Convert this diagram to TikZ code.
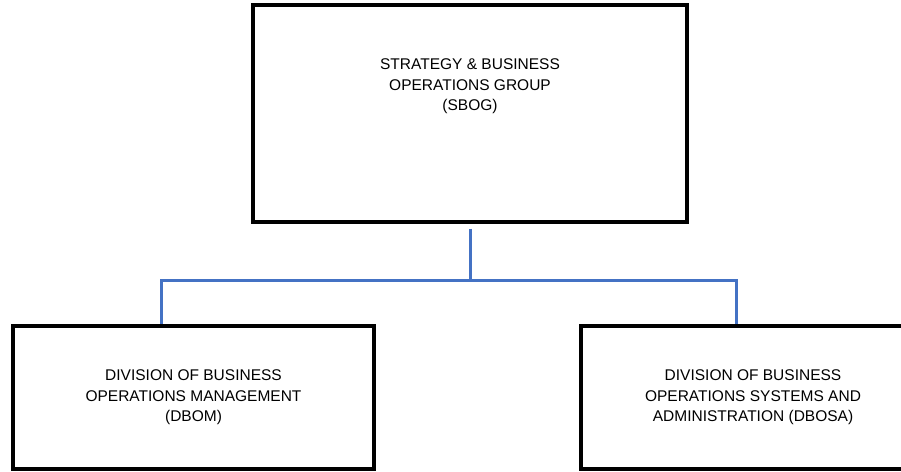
\documentclass[tikz,border=0pt]{standalone}
\usepackage{fontspec}
\setmainfont{Liberation Sans}
\usepackage{tikz}
\usetikzlibrary{positioning}
\definecolor{linkblue}{RGB}{68,114,196}

\begin{document}
\begin{tikzpicture}[x=1pt, y=1pt]

    % Define styles for the nodes
    \tikzstyle{unit} = [
        rectangle, draw=black, line width=3.2pt, inner sep=0pt
    ]
    \tikzstyle{unittext} = [
        text centered, align=center,
        font=\fontsize{15.5}{20.5}\selectfont
    ]
    \tikzstyle{link} = [draw=linkblue, line width=3pt]

    \useasboundingbox (0,0) rectangle (901,471);
    \clip (0,0) rectangle (901,471);

    % Nodes
    \node (sbog) [unit, minimum width=434pt, minimum height=217pt] at (470,357.5) {};
    \node (sbogtext) [unittext] at ([yshift=27pt]sbog.center) {STRATEGY \& BUSINESS\\OPERATIONS GROUP\\(SBOG)};
    \node (dbom) [unit, unittext, minimum width=361pt, minimum height=143pt] at (193.5,73.5) {DIVISION OF BUSINESS\\OPERATIONS MANAGEMENT\\(DBOM)};
    \node (dbosa) [unit, unittext, minimum width=344pt, minimum height=143pt] at (753,73.5) {DIVISION OF BUSINESS\\OPERATIONS SYSTEMS AND\\ADMINISTRATION (DBOSA)};

    % Connectors
    \coordinate (fork) at ([yshift=-57pt]sbog.south);
    \draw [link] ([yshift=-5pt]sbog.south) -- (fork);
    \draw [link] (fork) -| ([xshift=-32.5pt]dbom.north);
    \draw [link] (fork) -| ([xshift=-17pt]dbosa.north);

\end{tikzpicture}
\end{document}
